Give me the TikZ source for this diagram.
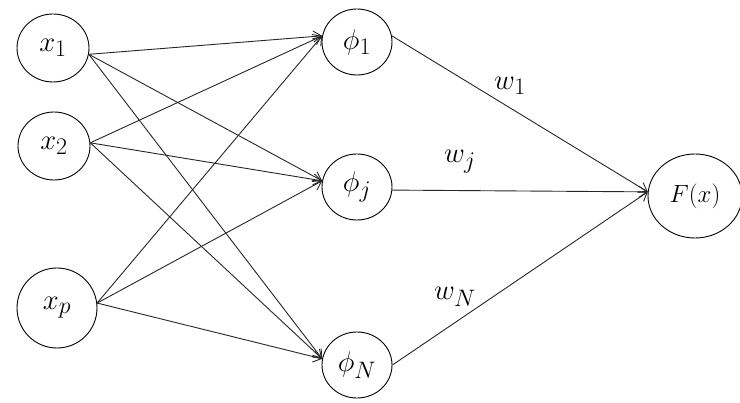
\documentclass[tikz,border=0pt]{standalone}
\usetikzlibrary{shapes.geometric,arrows.meta}
\newcommand{\nlab}[2][1.15]{\scalebox{#1}{$#2$}}
\begin{document}
\begin{tikzpicture}[
    x=1pt,
    y=-1pt,
    >={Straight Barb[length=8pt,width=11pt]},
    neuron/.style={draw,ellipse,line width=0.9pt,inner sep=0pt,
      minimum width=72pt,minimum height=68pt,font=\Huge},
    link/.style={->,line width=0.9pt,black!85},
    weightlabel/.style={font=\Huge}
  ]
    \useasboundingbox (0,0) rectangle (740,403);

    \node[neuron] (x1) at (53,48) {\nlab{x_1}};
    \node[neuron] (x2) at (54,146) {\nlab{x_2}};
    \node[neuron,minimum width=80pt,minimum height=80pt] (xp) at (57,308) {\nlab{x_p}};

    \node[neuron,minimum width=70pt,minimum height=66pt] (phi1) at (357,42) {\nlab{\phi_1}};
    \node[neuron,minimum width=70pt,minimum height=66pt] (phij) at (357,187) {\nlab{\phi_j}};
    \node[neuron,minimum width=70pt,minimum height=66pt] (phiN) at (357,365) {\nlab{\phi_N}};

    \node[neuron,minimum width=94pt,minimum height=84pt,
      font=\huge] (out) at (695,196) {\nlab[1.2]{F(x)}};

    \foreach \dst in {phi1,phij,phiN}
      \draw[link] (x1.-10) -- (\dst.170);
    \foreach \dst in {phi1,phij,phiN}
      \draw[link] (x2.5) -- (\dst.170);
    \foreach \dst in {phi1,phij,phiN}
      \draw[link] (xp.7) -- (\dst.170);

    \draw[link] (phi1.10) -- (out.175);
    \draw[link] (phij.-5) -- (out.175);
    \draw[link] (phiN.0) -- (out.175);

    \node[weightlabel] (w1) at (510,86) {\nlab{w_1}};
    \node[weightlabel] (wj) at (460,162) {\nlab{w_j}};
    \node[weightlabel] (wN) at (455,297) {\nlab{w_N}};
  \end{tikzpicture}
\end{document}
